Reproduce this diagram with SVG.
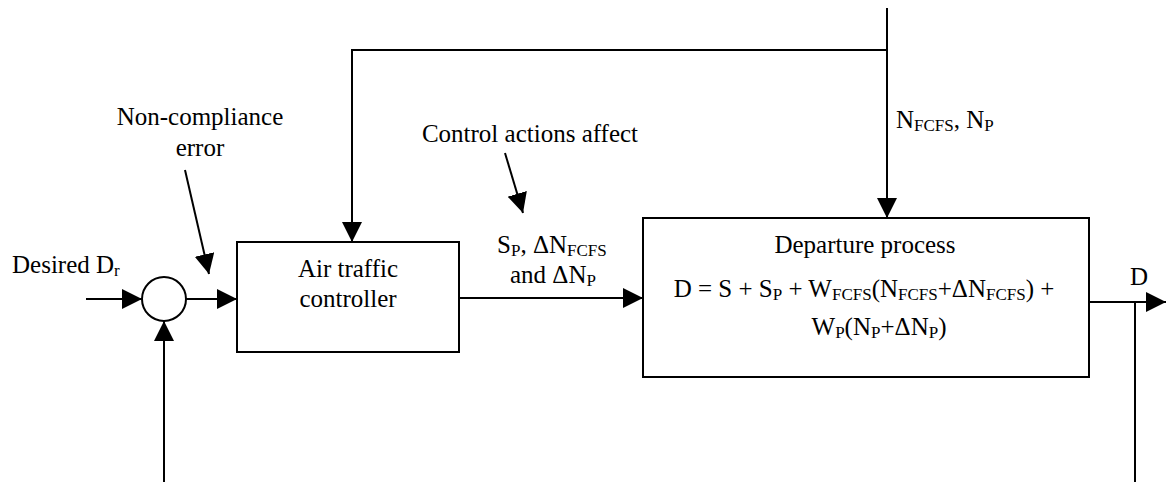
<svg xmlns="http://www.w3.org/2000/svg" width="1166" height="482" viewBox="0 0 1166 482">
<style>
.t{font-family:"Liberation Serif","Times New Roman",serif;font-size:25px;fill:#000}
.s{font-size:17px}
.ln{stroke:#000;stroke-width:2;fill:none}
.box{stroke:#000;stroke-width:2;fill:#fff}
</style>
<defs>
<marker id="ah" markerUnits="userSpaceOnUse" markerWidth="22" markerHeight="22" refX="20" refY="10" orient="auto">
<path d="M0,0 L20,10 L0,20 Z" fill="#000"/>
</marker>
</defs>
<rect width="1166" height="482" fill="#fff"/>
<g id="connectors">
<line class="ln" x1="86" y1="299" x2="142" y2="299" marker-end="url(#ah)"/>
<line class="ln" x1="186" y1="299" x2="237" y2="299" marker-end="url(#ah)"/>
<line class="ln" x1="164" y1="482" x2="164" y2="321" marker-end="url(#ah)"/>
<polyline class="ln" points="887,50 352,50 352,242" marker-end="url(#ah)"/>
<line class="ln" x1="887" y1="8" x2="887" y2="218" marker-end="url(#ah)"/>
<line class="ln" x1="459" y1="298" x2="643" y2="298" marker-end="url(#ah)"/>
<line class="ln" x1="1089" y1="302" x2="1166" y2="302" marker-end="url(#ah)"/>
<line class="ln" x1="1135" y1="302" x2="1135" y2="482"/>
<line class="ln" x1="185" y1="170" x2="209" y2="274" marker-end="url(#ah)"/>
<line class="ln" x1="505" y1="153" x2="523" y2="213" marker-end="url(#ah)"/>
</g>
<g id="sum">
<circle cx="164" cy="299" r="22" class="box"/>
</g>
<g id="atc">
<rect x="237" y="242" width="222" height="110" class="box"/>
<text class="t" x="348" y="277" text-anchor="middle">Air traffic</text>
<text class="t" x="348" y="307" text-anchor="middle">controller</text>
</g>
<g id="departure">
<rect x="643" y="218" width="446" height="159" class="box"/>
<text class="t" x="865" y="253" text-anchor="middle">Departure process</text>
<text class="t" x="864" y="297" text-anchor="middle">D = S + S<tspan class="s" dy="3">P</tspan><tspan dy="-3"> + W</tspan><tspan class="s" dy="3">FCFS</tspan><tspan dy="-3">(N</tspan><tspan class="s" dy="3">FCFS</tspan><tspan dy="-3">+ΔN</tspan><tspan class="s" dy="3">FCFS</tspan><tspan dy="-3">) +</tspan></text>
<text class="t" x="879" y="335" text-anchor="middle">W<tspan class="s" dy="3">P</tspan><tspan dy="-3">(N</tspan><tspan class="s" dy="3">P</tspan><tspan dy="-3">+ΔN</tspan><tspan class="s" dy="3">P</tspan><tspan dy="-3">)</tspan></text>
</g>
<g id="labels">
<text class="t" x="200" y="125" text-anchor="middle">Non-compliance</text>
<text class="t" x="200" y="156" text-anchor="middle">error</text>
<text class="t" x="12" y="273">Desired D<tspan class="s" dy="3">r</tspan></text>
<text class="t" x="530" y="142" text-anchor="middle">Control actions affect</text>
<text class="t" x="497" y="253">S<tspan class="s" dy="3">P</tspan><tspan dy="-3">, ΔN</tspan><tspan class="s" dy="3">FCFS</tspan></text>
<text class="t" x="510" y="283">and ΔN<tspan class="s" dy="3">P</tspan></text>
<text class="t" x="896" y="128">N<tspan class="s" dy="3">FCFS</tspan><tspan dy="-3">, N</tspan><tspan class="s" dy="3">P</tspan></text>
<text class="t" x="1130" y="285">D</text>
</g>
</svg>
